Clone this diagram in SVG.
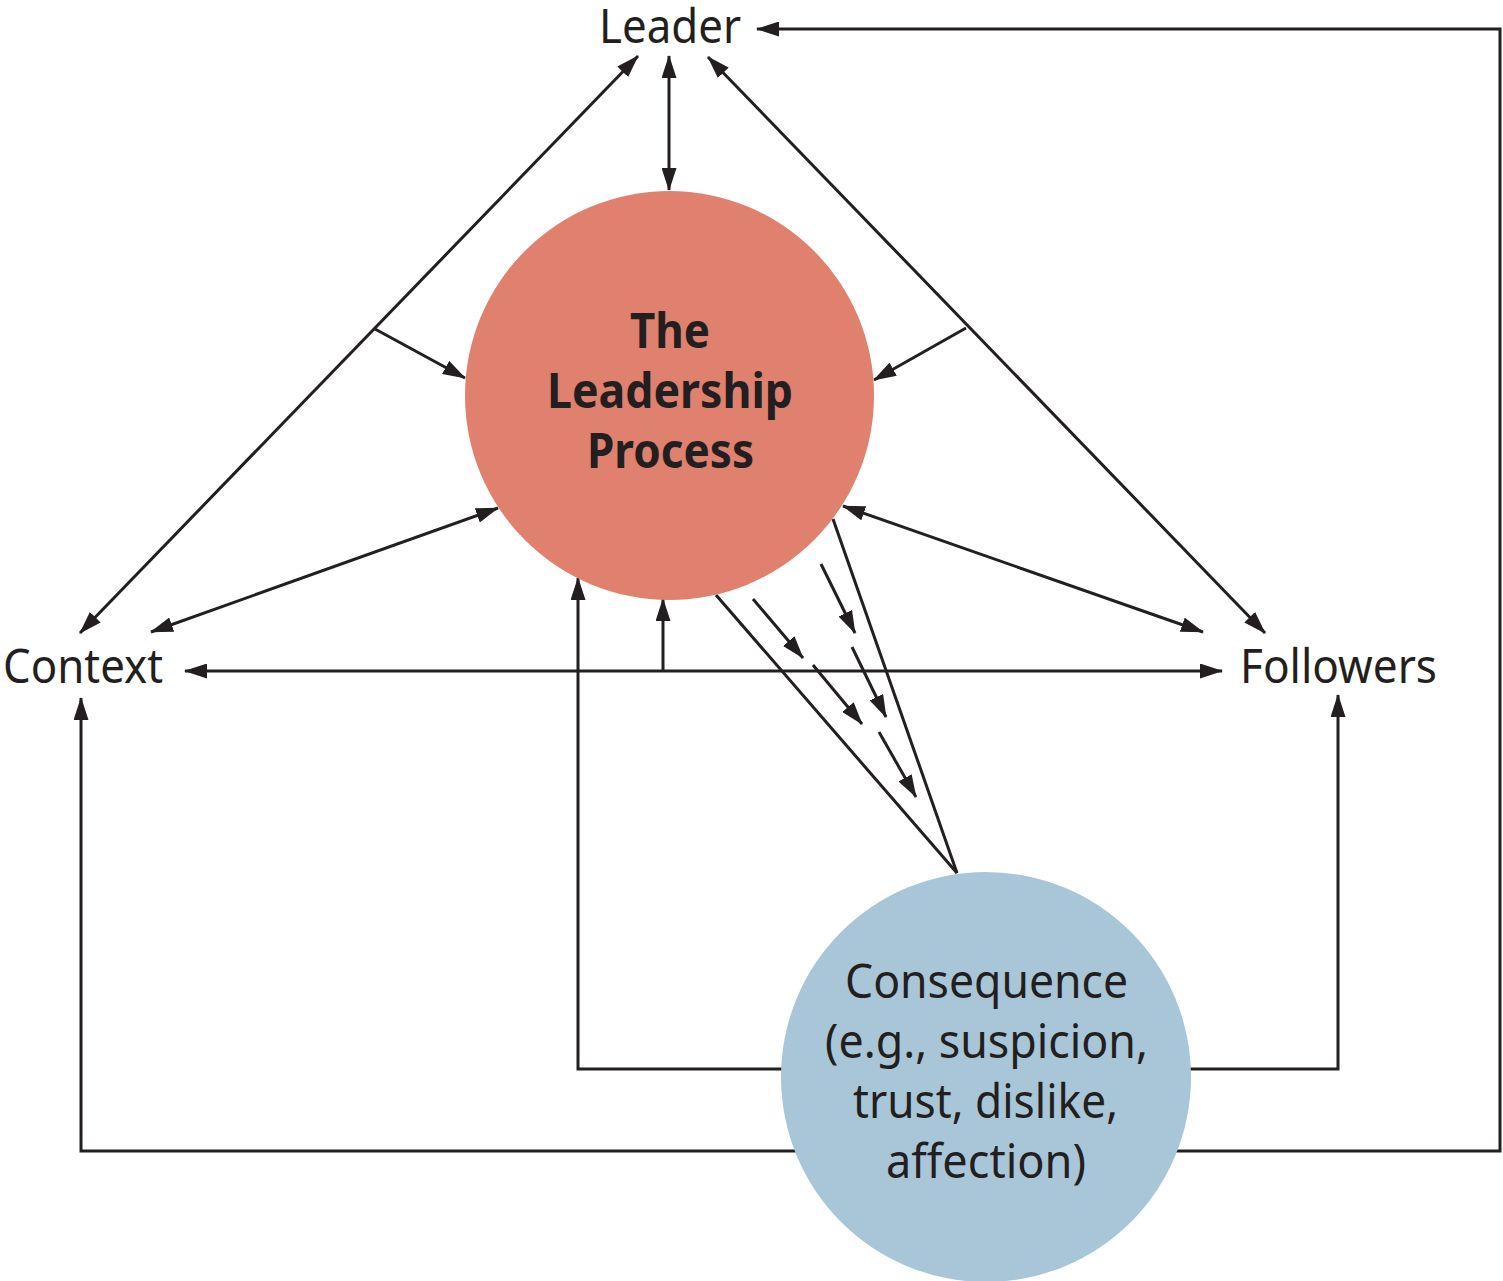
<svg xmlns="http://www.w3.org/2000/svg" width="1503" height="1281" viewBox="0 0 1503 1281">
<style>
.ln{fill:none;stroke:#231F20;stroke-width:3}
.t{font-family:"Noto Sans","Open Sans",sans-serif;font-size:48px;fill:#231F20}
.b{font-family:"Noto Sans","Open Sans",sans-serif;font-size:48px;font-weight:bold;fill:#231F20}
</style>
<defs>
<marker id="ah" viewBox="0 0 23 15" refX="22" refY="7.5" markerWidth="23" markerHeight="15" markerUnits="userSpaceOnUse" orient="auto-start-reverse">
<path d="M0,0 L23,7.5 L0,15 z" fill="#231F20"/>
</marker>
</defs>
<g id="connectors">
<path class="ln" d="M986,1151 H81 V698" marker-end="url(#ah)"/>
<path class="ln" d="M986,1151 H1500 V29 H757" marker-end="url(#ah)"/>
<path class="ln" d="M958,1069 H578 V578" marker-end="url(#ah)"/>
<path class="ln" d="M958,1069 H1338 V695" marker-end="url(#ah)"/>
<line class="ln" x1="669" y1="56" x2="669" y2="190" marker-start="url(#ah)" marker-end="url(#ah)"/>
<line class="ln" x1="638" y1="56" x2="80" y2="633" marker-start="url(#ah)" marker-end="url(#ah)"/>
<line class="ln" x1="375" y1="329" x2="465" y2="378" marker-end="url(#ah)"/>
<line class="ln" x1="708" y1="57" x2="1265" y2="633" marker-start="url(#ah)" marker-end="url(#ah)"/>
<line class="ln" x1="966" y1="328" x2="874" y2="380" marker-end="url(#ah)"/>
<line class="ln" x1="498" y1="508" x2="151" y2="632" marker-start="url(#ah)" marker-end="url(#ah)"/>
<line class="ln" x1="843" y1="506" x2="1203" y2="632" marker-start="url(#ah)" marker-end="url(#ah)"/>
<line class="ln" x1="185" y1="671" x2="1222" y2="671" marker-start="url(#ah)" marker-end="url(#ah)"/>
<line class="ln" x1="663" y1="671" x2="663" y2="599" marker-end="url(#ah)"/>
<line class="ln" x1="957" y1="873" x2="716" y2="595"/>
<line class="ln" x1="957" y1="873" x2="833" y2="519"/>
<line class="ln" x1="753" y1="599" x2="803" y2="658" marker-end="url(#ah)"/>
<line class="ln" x1="813" y1="665" x2="862" y2="724" marker-end="url(#ah)"/>
<line class="ln" x1="821" y1="564" x2="855" y2="633" marker-end="url(#ah)"/>
<line class="ln" x1="852" y1="647" x2="886" y2="717" marker-end="url(#ah)"/>
<line class="ln" x1="879" y1="732" x2="916" y2="797" marker-end="url(#ah)"/>
</g>
<g id="process">
<circle cx="669.5" cy="395.5" r="204.5" fill="#E0806F"/>
<text class="b" x="630" y="348" textLength="80" lengthAdjust="spacingAndGlyphs">The</text>
<text class="b" x="547" y="408" textLength="246" lengthAdjust="spacingAndGlyphs">Leadership</text>
<text class="b" x="587" y="468" textLength="167" lengthAdjust="spacingAndGlyphs">Process</text>
</g>
<g id="consequence">
<circle cx="986" cy="1077" r="205" fill="#A8C6D8"/>
<text class="t" x="845" y="998" textLength="283" lengthAdjust="spacingAndGlyphs">Consequence</text>
<text class="t" x="825" y="1058" textLength="323" lengthAdjust="spacingAndGlyphs">(e.g., suspicion,</text>
<text class="t" x="853" y="1118" textLength="265" lengthAdjust="spacingAndGlyphs">trust, dislike,</text>
<text class="t" x="886" y="1178" textLength="200" lengthAdjust="spacingAndGlyphs">affection)</text>
</g>
<g id="leader"><text class="t" x="599" y="43" textLength="142" lengthAdjust="spacingAndGlyphs">Leader</text></g>
<g id="context"><text class="t" x="3" y="683" textLength="160" lengthAdjust="spacingAndGlyphs">Context</text></g>
<g id="followers"><text class="t" x="1240" y="683" textLength="197" lengthAdjust="spacingAndGlyphs">Followers</text></g>
</svg>
